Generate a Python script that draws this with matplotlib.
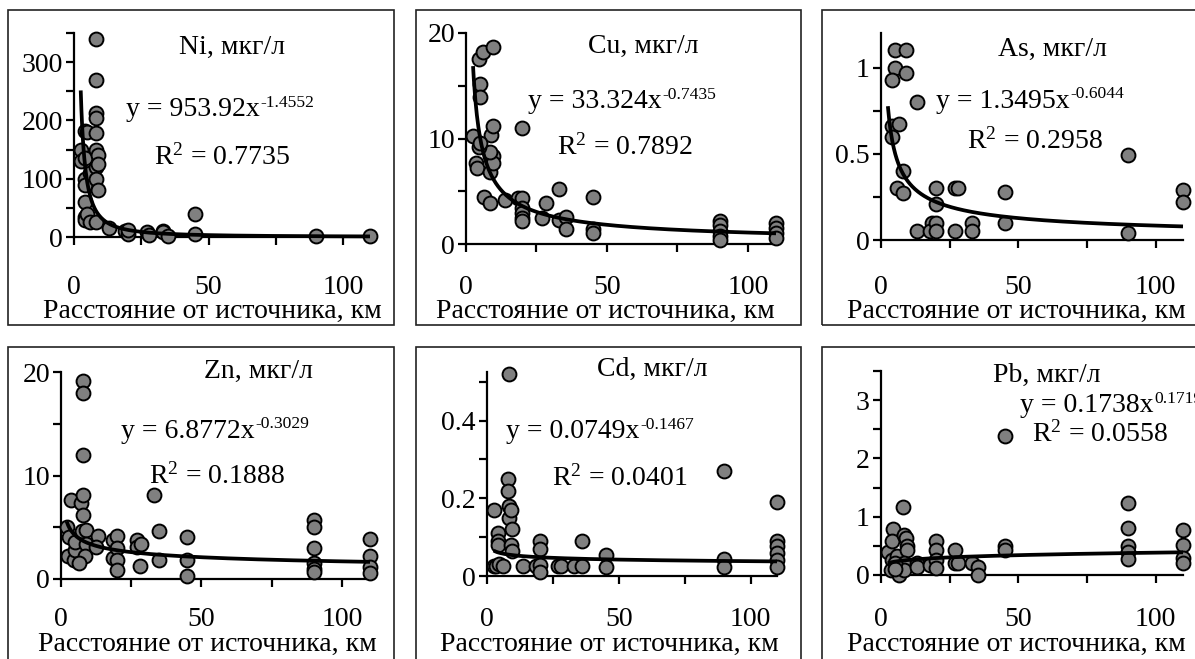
import numpy as np
import matplotlib
matplotlib.use('Agg')
import matplotlib.pyplot as plt
from matplotlib.patches import Rectangle
from matplotlib.ticker import MultipleLocator, FuncFormatter

plt.rcParams['font.family'] = ['Liberation Serif', 'DejaVu Serif']
plt.rcParams['mathtext.fontset'] = 'custom'
plt.rcParams['mathtext.rm'] = 'Liberation Serif'
plt.rcParams['mathtext.it'] = 'Liberation Serif:italic'
plt.rcParams['mathtext.bf'] = 'Liberation Serif:bold'

W, H = 1195, 659
FS = 20
FS_PX = FS / 0.72

# ---------------- data ----------------
ni_x = [2.5, 2.5, 4, 4, 4, 4, 4, 4, 4, 5, 5, 6, 6, 8, 8, 8, 8, 8, 8, 8, 8, 8, 9, 9, 9, 13, 19, 20, 20, 27, 28, 33, 33, 35, 45, 45, 90, 110]
ni_y = [150, 130, 182, 135, 100, 90, 60, 35, 30, 180, 40, 110, 25, 340, 270, 212, 205, 178, 150, 120, 100, 25, 140, 125, 80, 15, 10, 5, 12, 8, 3, 10, 8, 2, 40, 5, 2, 2]

cu_x = [2.5, 3.5, 4, 4.5, 5, 5, 6, 6.5, 8.5, 8.5, 9, 9.5, 9.5, 9.5, 9.5, 8.5, 4.5, 5, 14, 18.5, 20, 20, 20, 20, 20, 20, 27, 28.5, 33, 33, 35.5, 35.5, 45, 45, 45, 90, 90, 90, 90, 90, 110, 110, 110, 110]
cu_y = [10.2, 7.7, 7.2, 17.5, 15.2, 13.9, 18.2, 4.5, 3.9, 6.8, 10.3, 18.7, 11.2, 8.3, 7.7, 8.7, 9.2, 9.6, 4.2, 4.4, 11.0, 4.4, 3.4, 2.9, 2.5, 2.2, 2.5, 3.9, 5.2, 2.3, 2.6, 1.4, 4.5, 1.4, 1.0, 2.2, 1.8, 1.2, 0.8, 0.4, 2.0, 1.5, 1.0, 0.6]

as_x = [5, 9, 5, 9, 4, 13, 4, 6.5, 4, 8, 6, 8, 13, 18.5, 18, 20, 20, 20, 20, 27, 28, 27, 33, 33, 45, 45, 90, 90, 110, 110]
as_y = [1.1, 1.1, 1.0, 0.97, 0.93, 0.8, 0.66, 0.67, 0.6, 0.4, 0.3, 0.27, 0.05, 0.1, 0.05, 0.3, 0.21, 0.1, 0.05, 0.3, 0.3, 0.05, 0.1, 0.05, 0.28, 0.1, 0.49, 0.04, 0.29, 0.22]

zn_x = [2, 2.5, 3.5, 7, 3, 4.5, 5, 5, 7.5, 8, 8, 8, 8, 8, 9, 9, 8.5, 6.5, 13, 12.5, 18.5, 18.5, 20, 20, 20, 20, 27, 27, 28.5, 28, 33, 35, 35, 45, 45, 45, 90, 90, 90, 90, 90, 90, 110, 110, 110, 110]
zn_y = [5.0, 2.2, 7.6, 7.3, 4.1, 1.8, 2.8, 3.6, 4.6, 19.1, 18.0, 12.0, 8.1, 6.2, 4.7, 3.4, 2.2, 1.5, 4.2, 3.1, 3.8, 2.0, 4.2, 3.0, 1.8, 0.9, 3.8, 3.1, 3.4, 1.3, 8.1, 4.6, 1.8, 4.1, 1.8, 0.3, 5.7, 5.0, 3.0, 1.5, 1.0, 0.7, 3.9, 2.2, 1.2, 0.6]

cd_x = [8.5, 2.5, 2.5, 4, 4, 4, 3.5, 4.5, 6, 8, 8, 8.5, 8.5, 9, 9.5, 9, 9.5, 13.5, 18.5, 20, 20, 20, 20, 27, 28, 33, 36, 36, 45, 45, 90, 90, 90, 110, 110, 110, 110, 110, 110]
cd_y = [0.52, 0.17, 0.025, 0.11, 0.09, 0.08, 0.025, 0.03, 0.025, 0.25, 0.22, 0.18, 0.15, 0.17, 0.12, 0.08, 0.065, 0.025, 0.025, 0.09, 0.07, 0.028, 0.01, 0.025, 0.025, 0.025, 0.09, 0.025, 0.055, 0.022, 0.27, 0.045, 0.023, 0.19, 0.09, 0.077, 0.058, 0.04, 0.023]

pb_x = [2.5, 4.5, 4, 4, 3.5, 6, 6.5, 6.5, 8, 8.5, 9, 9.5, 9.5, 8.5, 8.5, 5, 5, 13, 13, 18, 20, 20, 20, 20, 27, 27, 28, 33, 35.5, 35.5, 45, 45, 45, 90, 90, 90, 90, 90, 110, 110, 110, 110]
pb_y = [0.4, 0.79, 0.58, 0.26, 0.09, 0.32, 0.12, 0.0, 1.16, 0.69, 0.64, 0.49, 0.43, 0.2, 0.09, 0.2, 0.1, 0.2, 0.13, 0.17, 0.58, 0.43, 0.26, 0.12, 0.43, 0.2, 0.2, 0.2, 0.14, 0.0, 2.39, 0.5, 0.43, 1.23, 0.8, 0.49, 0.4, 0.28, 0.78, 0.52, 0.29, 0.2]

elements = ['Ni', 'Cu', 'As', 'Zn', 'Cd', 'Pb']
xs_all = [ni_x, cu_x, as_x, zn_x, cd_x, pb_x]
ys_all = [ni_y, cu_y, as_y, zn_y, cd_y, pb_y]
coef_a = [953.92, 33.324, 1.3495, 6.8772, 0.0749, 0.1738]
coef_b = [-1.4552, -0.7435, -0.6044, -0.3029, -0.1467, 0.1719]
a_txt = ['953.92', '33.324', '1.3495', '6.8772', '0.0749', '0.1738']
b_txt = ['-1.4552', '-0.7435', '-0.6044', '-0.3029', '-0.1467', '0.1719']
r2_txt = ['0.7735', '0.7892', '0.2958', '0.1888', '0.0401', '0.0558']
unit = 'мкг/л'
xlabel = 'Расстояние от источника, км'
trend_start = [2.5, 2.5, 2.5, 2.0, 2.5, 2.5]
x_max = 110
y_max = [350, 20, 1.2, 20, 0.525, 3.5]
y_major = [100, 10, 0.5, 10, 0.2, 1]

# ---------------- layout (pixels) ----------------
boxes = [(8, 10, 394, 325), (416, 10, 801, 325), (822, 10, 1210, 325),
         (8, 347, 394, 670), (416, 347, 801, 670), (822, 347, 1210, 670)]
# axes: left(x=0), top(y=max), right(x=x_max), bottom(y=0)
axes_px = [(74, 33, 370, 237), (466, 33, 776, 244), (881, 33, 1183, 240),
           (61, 372, 370, 579), (487, 372, 777, 576), (881, 371, 1183, 575)]
title_pos = [(232, 47), (643, 46), (1052, 49), (258, 371), (652, 369), (1047, 375)]
eq_pos = [(220, 110), (622, 102), (1030, 101), (215, 431), (600, 432), (1020, 406)]
eq_ha = ['center', 'center', 'center', 'center', 'center', 'left']
r2_pos = [(222, 157), (625, 147), (1035, 141), (217, 476), (620, 478), (1100, 434)]
tick_lab_y = [284, 284, 284, 616, 616, 616]
xlab_pos = [(212, 311), (605, 311), (1016, 311), (207, 644), (609, 644), (1016, 644)]

def fx(px):
    return px / W

def fy(py):
    return 1 - py / H

fig = plt.figure(figsize=(W / 100, H / 100), dpi=100)
renderer = fig.canvas.get_renderer()

for i, el in enumerate(elements):
    bl, bt, br, bb = boxes[i]
    fig.patches.append(Rectangle((fx(bl), fy(bb)), fx(br) - fx(bl), fy(bt) - fy(bb),
                                 transform=fig.transFigure, fill=False,
                                 edgecolor='#222222', linewidth=1.2, zorder=0))
    L, T, R, B = axes_px[i]
    ax = fig.add_axes([fx(L), fy(B), fx(R) - fx(L), fy(T) - fy(B)])
    ax.patch.set_alpha(0)
    x = np.array(xs_all[i], dtype=float)
    y = np.array(ys_all[i], dtype=float)
    ax.scatter(x, y, s=100, c='#808080', edgecolors='black', linewidths=1.4,
               zorder=3, clip_on=False)
    xt = np.linspace(trend_start[i], x_max, 400)
    ax.plot(xt, coef_a[i] * xt ** coef_b[i], color='black', lw=2.7, zorder=4,
            solid_capstyle='butt', clip_on=False)
    ax.set_xlim(0, x_max)
    ax.set_ylim(0, y_max[i])
    for s in ['top', 'right']:
        ax.spines[s].set_visible(False)
    for s in ['left', 'bottom']:
        ax.spines[s].set_linewidth(1.6)
    ax.xaxis.set_major_locator(MultipleLocator(50))
    ax.xaxis.set_minor_locator(MultipleLocator(25))
    ax.yaxis.set_major_locator(MultipleLocator(y_major[i]))
    ax.yaxis.set_minor_locator(MultipleLocator(y_major[i] / 2))
    fmt = FuncFormatter(lambda v, p: '%g' % round(v, 6))
    ax.xaxis.set_major_formatter(fmt)
    ax.yaxis.set_major_formatter(fmt)
    tl = 6
    ax.tick_params(which='both', direction='out', length=tl, width=1.6, color='black')
    ax.tick_params(axis='y', which='major', labelsize=FS, pad=2)
    pad_px = tick_lab_y[i] - B - tl / 0.72 - 9.5
    ax.tick_params(axis='x', which='major', labelsize=FS, pad=pad_px * 0.72)
    ax.set_xlabel(xlabel, fontsize=FS)
    ax.xaxis.set_label_coords(fx(xlab_pos[i][0]), fy(xlab_pos[i][1]), transform=fig.transFigure)
    ax.xaxis.label.set_va('center')
    ax.xaxis.label.set_ha('center')

    # element title
    fig.text(fx(title_pos[i][0]), fy(title_pos[i][1]), f'{el}, {unit}', fontsize=FS,
             ha='center', va='center')

    # trend equation: main part + superscript exponent (plain hyphen like Excel)
    ex, ey = eq_pos[i]
    base_py = ey + 6.5
    main = fig.text(0, fy(base_py), 'y = ' + a_txt[i] + 'x', fontsize=FS,
                    ha='left', va='baseline')
    sup = fig.text(0, fy(base_py - 9.5), b_txt[i], fontsize=FS * 0.63,
                   ha='left', va='baseline')
    wm = main.get_window_extent(renderer).width
    ws = sup.get_window_extent(renderer).width
    left = ex - (wm + ws) / 2 if eq_ha[i] == 'center' else ex
    main.set_x(fx(left))
    sup.set_x(fx(left + wm + 0.5))

    fig.text(fx(r2_pos[i][0]), fy(r2_pos[i][1]), 'R$^{\\mathrm{2}}$ = ' + r2_txt[i],
             fontsize=FS, ha='center', va='center')

fig.savefig('out.png', dpi=100, facecolor='white')
